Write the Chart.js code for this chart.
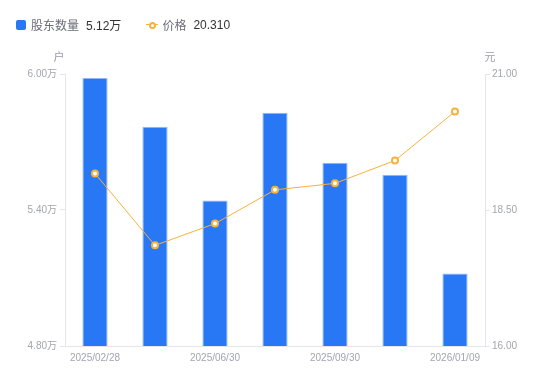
<!DOCTYPE html>
<html>
<head>
<meta charset="utf-8">
<script src="https://cdn.jsdelivr.net/npm/chart.js@4/dist/chart.umd.min.js"></script>
<style>
  body { margin: 0; background: #fff; font-family: "Liberation Sans", "Noto Sans CJK SC", sans-serif; }
  #wrap { position: relative; width: 550px; height: 381px; }
  #legend { position: absolute; left: 16px; top: 16px; font-size: 12px; display: flex; align-items: center; white-space: nowrap; }
  .item { display: flex; align-items: center; margin-right: 25px; }
  .box { width: 10px; height: 10px; border-radius: 2px; background: #2878f5; margin-right: 5px; }
  .icon { position: relative; width: 12px; height: 10px; margin-right: 4px; }
  .icon::before { content: ""; position: absolute; left: 0; right: 0; top: 4.5px; height: 1px; background: #f7b23b; }
  .icon::after { content: ""; position: absolute; left: 3px; top: 2px; width: 3px; height: 3px; border: 2px solid #f7b23b; border-radius: 50%; background: #fff; }
  .name { color: #6b6e78; margin-right: 7px; }
  .val { color: #333; }
</style>
</head>
<body>
<div id="wrap">
  <div id="legend"></div>
  <canvas id="myChart" width="550" height="381"></canvas>
</div>
<script>
let labels = ['2025/02/28', '2025/03/31', '2025/06/30', '2025/08/20', '2025/09/30', '2025/12/31', '2026/01/09']
let holders = [5.982, 5.767, 5.442, 5.829, 5.609, 5.556, 5.12]
let prices = [19.17, 17.85, 18.25, 18.87, 18.99, 19.41, 20.31]
let leftTicks = [4.8, 5.4, 6.0]
let rightTicks = [16, 18.5, 21]

let tickColor = '#a3a5b0'
let lineColor = '#e6e6ea'
let font = { family: '"Liberation Sans", "Noto Sans CJK SC", sans-serif', size: 10 }

document.getElementById('legend').innerHTML =
    '<div class="item"><span class="box"></span><span class="name">股东数量</span><span class="val">' +
    holders[holders.length - 1].toFixed(2) + '万</span></div>' +
    '<div class="item"><span class="icon"></span><span class="name">价格</span><span class="val">' +
    prices[prices.length - 1].toFixed(3) + '</span></div>'

// unit captions above both y axes
let unitTitles = {
    id: 'unitTitles',
    afterDraw(chart) {
        let c = chart.ctx
        let area = chart.chartArea
        c.save()
        c.font = '11px "Liberation Sans", "Noto Sans CJK SC", sans-serif'
        c.fillStyle = '#9a9ca6'
        c.textAlign = 'center'
        c.textBaseline = 'middle'
        c.fillText('户', area.left - 6, area.top - 16)
        c.fillText('元', area.right + 5, area.top - 16)
        c.restore()
    }
}

let ctx = document.getElementById('myChart')
let myChart = new Chart(ctx, {
    data: {
        labels,
        datasets: [
            {
                type: 'line',
                label: '价格',
                data: prices,
                yAxisID: 'y1',
                borderColor: '#f7b23b',
                borderWidth: 1,
                pointRadius: 3,
                pointBorderWidth: 2,
                pointBackgroundColor: '#fff',
                pointBorderColor: '#f7b23b',
                tension: 0,
                order: 0
            },
            {
                type: 'bar',
                label: '股东数量',
                data: holders,
                yAxisID: 'y',
                backgroundColor: '#2878f5',
                borderColor: '#8fb8fa',
                borderWidth: 1,
                barPercentage: 0.42,
                categoryPercentage: 1,
                order: 1
            }
        ]
    },
    options: {
        responsive: false,
        animation: false,
        layout: { padding: { top: 74, left: 0, right: 0, bottom: 0 } },
        plugins: { legend: { display: false }, tooltip: { enabled: false } },
        scales: {
            x: {
                grid: { display: false, drawTicks: false },
                border: { color: lineColor },
                ticks: {
                    color: tickColor, font, padding: 6, autoSkip: false, maxRotation: 0,
                    callback: (v, i) => i % 2 === 0 ? labels[i] : ''
                },
                afterFit: s => { s.height = 35 }
            },
            y: {
                position: 'left',
                min: leftTicks[0],
                max: leftTicks[leftTicks.length - 1],
                afterBuildTicks: s => { s.ticks = leftTicks.map(v => ({ value: v })) },
                grid: { drawOnChartArea: false, drawTicks: true, tickLength: 5, color: lineColor },
                border: { color: lineColor },
                ticks: { color: tickColor, font, padding: 3, callback: v => v.toFixed(2) + '万' },
                afterFit: s => { s.width = 65 }
            },
            y1: {
                position: 'right',
                min: rightTicks[0],
                max: rightTicks[rightTicks.length - 1],
                afterBuildTicks: s => { s.ticks = rightTicks.map(v => ({ value: v })) },
                grid: { drawOnChartArea: false, drawTicks: true, tickLength: 5, color: lineColor },
                border: { color: lineColor },
                ticks: { color: tickColor, font, padding: 2, callback: v => v.toFixed(2) },
                afterFit: s => { s.width = 65 }
            }
        }
    },
    plugins: [unitTitles]
})
</script>
</body>
</html>
